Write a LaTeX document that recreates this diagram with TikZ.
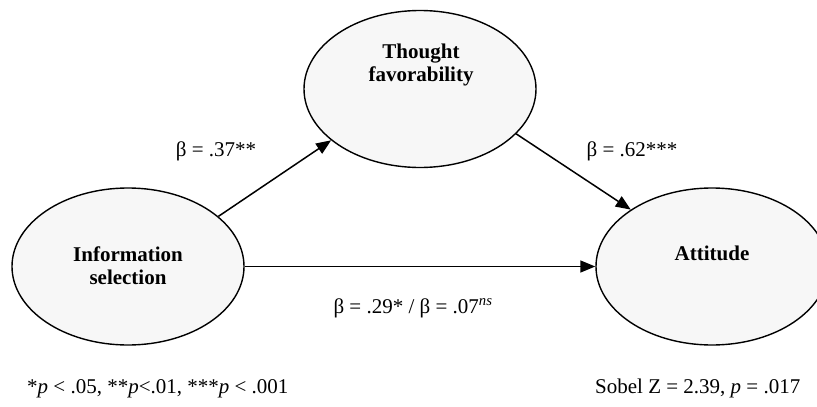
\documentclass[tikz,border=0pt]{standalone}
\usepackage{fontspec}
\setmainfont{Liberation Serif}
\usetikzlibrary{shapes.geometric,arrows.meta}
\definecolor{ellfill}{HTML}{F7F7F7}
\tikzset{
  latent/.style={ellipse, draw=black, line width=1.4pt, fill=ellfill, minimum width=232pt, minimum height=157pt, inner sep=0pt},
  nametext/.style={font=\fontsize{21}{23}\selectfont\bfseries, align=center, inner sep=0pt},
  coef/.style={font=\fontsize{21}{23}\selectfont, inner sep=0pt, anchor=base},
  path/.style={line width=1.5pt, -{Triangle[length=15pt,width=12pt]}}
}
\begin{document}
\begin{tikzpicture}[x=1pt,y=-1pt]
\useasboundingbox (0,0) rectangle (817,407);
\node[latent] (info) at (128,266.5) {};
\node[latent] (thought) at (420,89) {};
\node[latent] (att) at (712,266.5) {};
\node[nametext] (infotxt) at (128,266) {Information\\selection};
\node[nametext] (thoughttxt) at (421,65) {Thought\\favorability};
\node[nametext, anchor=base] (atttxt) at (712,260) {Attitude};
\draw[path] (info.29) -- (thought.210.7);
\draw[path] (thought.-25.8) -- (att.145.9);
\draw[path] (info.east) -- (att.west);
\node[coef] (b1) at (216,156) {β = .37**};
\node[coef] (b2) at (632,156) {β = .62***};
\node[coef] (b3) at (413,313) {β = .29* / β = .07\textsuperscript{\itshape ns}};
\node[coef, anchor=base west] (note) at (27,393) {*\textit{p} < .05, **\textit{p}<.01, ***\textit{p} < .001};
\node[coef, anchor=base west] (sobel) at (595,393) {Sobel Z = 2.39, \textit{p} = .017};
\end{tikzpicture}
\end{document}
